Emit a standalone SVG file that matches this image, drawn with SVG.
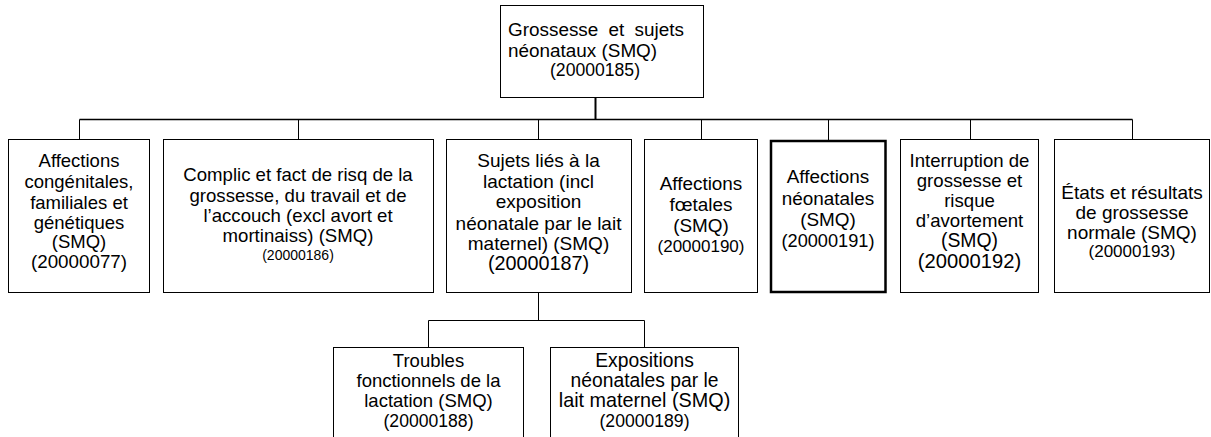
<svg xmlns="http://www.w3.org/2000/svg" width="1211" height="437" viewBox="0 0 1211 437">
<style>
.box{fill:#fff;stroke:#000;stroke-width:1}
.bold{fill:#fff;stroke:#000;stroke-width:2.5}
text{font-family:"Liberation Sans",Arial,sans-serif;fill:#000;text-anchor:middle}
.ln{fill:none;stroke:#000;stroke-width:1}
</style>
<rect width="1211" height="437" fill="#fff"/>
<g id="connectors">
<line x1="595.5" y1="97.5" x2="595.5" y2="119.5" stroke="#000" stroke-width="2"/>
<line class="ln" x1="79.5" y1="119.5" x2="1132.5" y2="119.5" style="stroke-width:1.5"/>
<path class="ln" d="M79.5 119.5V139.5M298.5 119.5V139.5M538.5 119.5V139.5M701.5 119.5V139.5M828.5 119.5V140M970.5 119.5V139.5M1132.5 119.5V139.5"/>
<path class="ln" d="M538.5 292.5V320.5M428.5 320.5H644.5M428.5 320.5V347.5M644.5 320.5V347.5"/>
</g>
<g id="n0">
<rect class="box" x="500.5" y="5.5" width="203" height="92"/>
<text x="508" y="36" style="text-anchor:start;font-size:18.9px" word-spacing="5">Grossesse et sujets</text>
<text x="508" y="57" style="text-anchor:start;font-size:18.9px">néonataux (SMQ)</text>
<text x="595" y="76" style="font-size:17.6px">(20000185)</text>
</g>
<g id="n1" style="font-size:18.5px">
<rect class="box" x="8.5" y="139.5" width="141" height="153"/>
<text x="79" y="167">Affections</text>
<text x="79" y="188">congénitales,</text>
<text x="79" y="209">familiales et</text>
<text x="79" y="229">génétiques</text>
<text x="79" y="248">(SMQ)</text>
<text x="79" y="268" style="font-size:18.8px">(20000077)</text>
</g>
<g id="n2" style="font-size:18.6px">
<rect class="box" x="163.5" y="139.5" width="270" height="153"/>
<text x="298" y="181">Complic et fact de risq de la</text>
<text x="298" y="202">grossesse, du travail et de</text>
<text x="298" y="222">l’accouch (excl avort et</text>
<text x="298" y="242">mortinaiss) (SMQ)</text>
<text x="298" y="260" style="font-size:14px">(20000186)</text>
</g>
<g id="n3" style="font-size:19px">
<rect class="box" x="446.5" y="139.5" width="185" height="153"/>
<text x="538.5" y="167">Sujets liés à la</text>
<text x="538.5" y="188">lactation (incl</text>
<text x="538.5" y="208">exposition</text>
<text x="538.5" y="230">néonatale par le lait</text>
<text x="538.5" y="250">maternel) (SMQ)</text>
<text x="538.5" y="270" style="font-size:19.8px">(20000187)</text>
</g>
<g id="n4" style="font-size:18.9px">
<rect class="box" x="644.5" y="139.5" width="113" height="153"/>
<text x="701" y="190">Affections</text>
<text x="701" y="211">fœtales</text>
<text x="701" y="232">(SMQ)</text>
<text x="701" y="252" style="font-size:17px">(20000190)</text>
</g>
<g id="n5" style="font-size:18.9px">
<rect class="bold" x="771" y="141" width="114.5" height="151"/>
<text x="828" y="183">Affections</text>
<text x="828" y="205">néonatales</text>
<text x="828" y="226">(SMQ)</text>
<text x="828" y="247" style="font-size:18.2px">(20000191)</text>
</g>
<g id="n6" style="font-size:18.6px">
<rect class="box" x="900.5" y="139.5" width="138" height="153"/>
<text x="969.5" y="167">Interruption de</text>
<text x="969.5" y="187">grossesse et</text>
<text x="969.5" y="207">risque</text>
<text x="969.5" y="227">d’avortement</text>
<text x="969.5" y="247" style="font-size:19.4px">(SMQ)</text>
<text x="969.5" y="268" style="font-size:20.2px">(20000192)</text>
</g>
<g id="n7" style="font-size:19px">
<rect class="box" x="1054.5" y="139.5" width="155" height="153"/>
<text x="1132" y="199">États et résultats</text>
<text x="1132" y="219">de grossesse</text>
<text x="1132" y="239">normale (SMQ)</text>
<text x="1132" y="257" style="font-size:17px">(20000193)</text>
</g>
<g id="n8" style="font-size:18.5px">
<rect class="box" x="333.5" y="347.5" width="190" height="100"/>
<text x="428.5" y="367">Troubles</text>
<text x="428.5" y="387">fonctionnels de la</text>
<text x="428.5" y="407">lactation (SMQ)</text>
<text x="428.5" y="427" style="font-size:17.6px">(20000188)</text>
</g>
<g id="n9" style="font-size:19.3px">
<rect class="box" x="550.5" y="347.5" width="188" height="100"/>
<text x="644.5" y="367">Expositions</text>
<text x="644.5" y="387">néonatales par le</text>
<text x="644.5" y="407" style="font-size:19.8px">lait maternel (SMQ)</text>
<text x="644.5" y="427" style="font-size:17.6px">(20000189)</text>
</g>
</svg>
